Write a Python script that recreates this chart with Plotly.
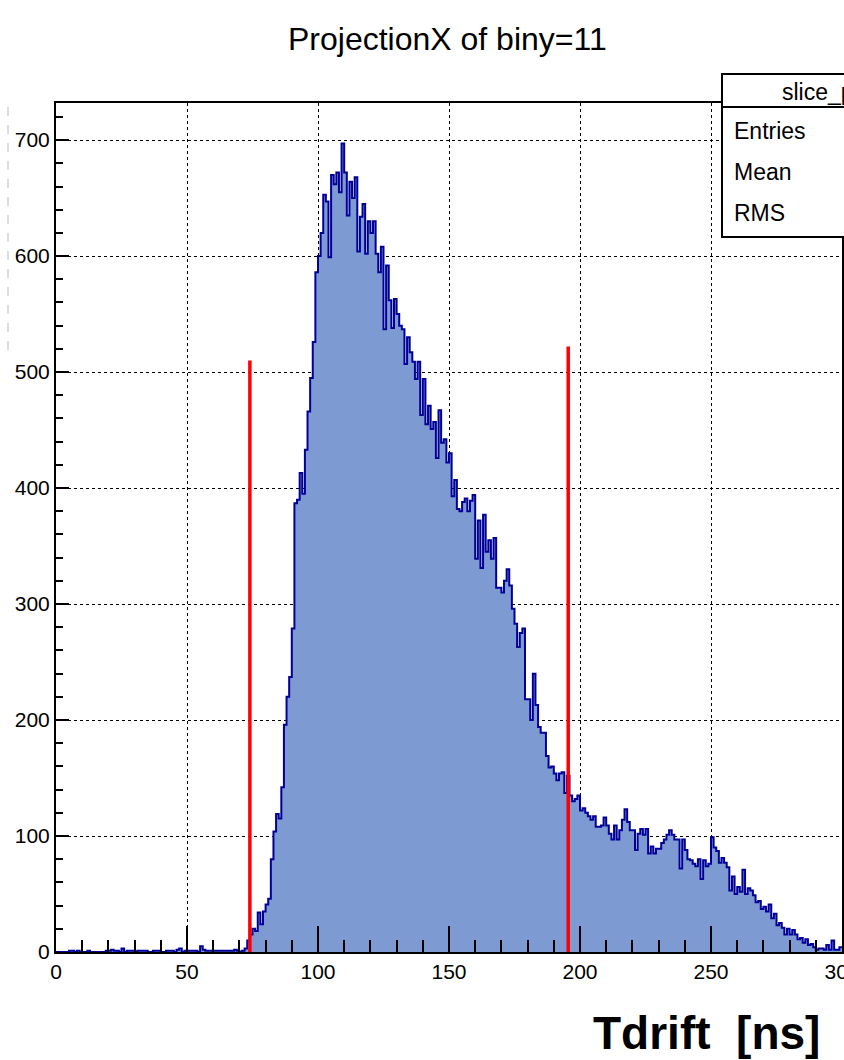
import numpy as np
import plotly.graph_objects as go

# ---------------- data (counts per 1 ns bin, 0..300 ns) ----------------
counts_000_049 = [0, 0, 0, 0, 0, 1, 1, 0, 1, 0,
                  0, 0, 1, 0, 0, 0, 0, 0, 0, 1,
                  1, 2, 1, 1, 0, 3, 0, 1, 1, 1,
                  0, 1, 1, 1, 1, 0, 0, 1, 1, 1,
                  0, 0, 1, 1, 1, 0, 2, 3, 0, 1]
counts_050_099 = [1, 1, 1, 1, 0, 5, 2, 1, 1, 1,
                  1, 1, 1, 1, 1, 1, 1, 1, 2, 1,
                  0, 1, 3, 10, 15, 20, 18, 34, 24, 35,
                  41, 46, 80, 104, 119, 115, 142, 196, 220, 237,
                  279, 387, 390, 413, 395, 433, 466, 495, 526, 586]
counts_100_149 = [600, 620, 653, 647, 599, 670, 662, 672, 655, 697,
                  672, 635, 664, 650, 668, 604, 634, 645, 602, 630,
                  620, 630, 602, 586, 608, 537, 592, 562, 538, 563,
                  550, 540, 537, 507, 530, 517, 509, 494, 509, 463,
                  494, 455, 471, 451, 457, 426, 467, 439, 442, 422]
counts_150_199 = [430, 393, 407, 382, 380, 388, 391, 380, 389, 394,
                  339, 372, 331, 377, 345, 355, 339, 357, 314, 314,
                  310, 320, 330, 316, 296, 283, 263, 275, 279, 218,
                  218, 200, 240, 213, 194, 189, 189, 169, 159, 160,
                  154, 148, 154, 155, 137, 152, 135, 130, 132, 135]
counts_200_249 = [122, 124, 120, 117, 114, 117, 108, 108, 109, 116,
                  109, 102, 97, 109, 97, 105, 114, 123, 112, 105,
                  105, 88, 102, 106, 101, 106, 85, 91, 85, 89,
                  89, 94, 97, 101, 105, 101, 97, 97, 72, 97,
                  88, 80, 79, 76, 74, 80, 63, 79, 74, 76]
counts_250_299 = [99, 90, 87, 77, 81, 77, 73, 53, 65, 50,
                  56, 52, 71, 50, 55, 53, 49, 43, 44, 37,
                  39, 35, 41, 29, 33, 23, 25, 21, 15, 20,
                  15, 19, 15, 11, 12, 8, 11, 6, 7, 4,
                  2, 3, 3, 2, 6, 2, 10, 2, 2, 4]

bin_width_ns = 1.0
x_tick_values = [0, 50, 100, 150, 200, 250, 300]
y_tick_values = [0, 100, 200, 300, 400, 500, 600, 700]
cut_positions_ns = [74.0, 195.5]
cut_heights = [510, 522]
stat_labels = ["Entries", "Mean", "RMS"]
hist_name = "slice_py"
title_text = "ProjectionX of biny=11"
x_title_text = "Tdrift  [ns]"

# ---------------- figure geometry ----------------
W, H = 844, 1060
L, R, T, B = 56, 2, 103, 108
plot_w = W - L - R
plot_h = H - T - B


def px_x(p):
    return (p - L) / plot_w


def px_y(p):
    return (H - B - p) / plot_h


counts = (counts_000_049 + counts_050_099 + counts_100_149 +
          counts_150_199 + counts_200_249 + counts_250_299)
edges = np.arange(len(counts) + 1) * bin_width_ns
step_y = counts + [counts[-1]]

SANS = "Liberation Sans, Arial, Helvetica, sans-serif"

fig = go.Figure()
fig.add_trace(go.Scatter(
    x=edges, y=step_y, mode="lines", line_shape="hv",
    line=dict(color="#000099", width=2),
    fill="tozeroy", fillcolor="#7d9bd2",
    hoverinfo="skip", showlegend=False,
))

for xc, hc in zip(cut_positions_ns, cut_heights):
    fig.add_trace(go.Scatter(
        x=[xc, xc], y=[0, hc], mode="lines",
        line=dict(color="#ff0000", width=3.5),
        hoverinfo="skip", showlegend=False,
    ))

axis_font = dict(family=SANS, size=21, color="black")

fig.update_xaxes(
    range=[0, 300], tickvals=x_tick_values, automargin=False,
    ticks="inside", ticklen=26, tickwidth=1.5, tickcolor="black",
    minor=dict(ticks="inside", ticklen=12, dtick=10, tickwidth=1.5, tickcolor="black", showgrid=False),
    showgrid=True, gridcolor="black", griddash="dot", gridwidth=1,
    showline=True, linecolor="black", linewidth=2, mirror=True,
    zeroline=False, tickfont=axis_font, ticklabeloverflow="allow",
)
fig.update_yaxes(
    range=[0, 732], tickvals=y_tick_values, automargin=False,
    ticks="inside", ticklen=13, tickwidth=1.5, tickcolor="black",
    minor=dict(ticks="inside", ticklen=7, dtick=20, tickwidth=1.5, tickcolor="black", showgrid=False),
    showgrid=True, gridcolor="black", griddash="dot", gridwidth=1,
    showline=True, linecolor="black", linewidth=2, mirror=True,
    zeroline=False, tickfont=axis_font, ticklabeloverflow="allow",
)

shapes = []
# stats box header and body
shapes.append(dict(type="rect", xref="paper", yref="paper",
                   x0=px_x(722), x1=px_x(900), y0=px_y(107), y1=px_y(74),
                   line=dict(color="black", width=2), fillcolor="white", layer="above"))
shapes.append(dict(type="rect", xref="paper", yref="paper",
                   x0=px_x(722), x1=px_x(900), y0=px_y(237), y1=px_y(107),
                   line=dict(color="black", width=2), fillcolor="white", layer="above"))
# faint dashed canvas-edge artefact on the left
shapes.append(dict(type="line", xref="paper", yref="paper",
                   x0=px_x(8), x1=px_x(8), y0=px_y(350), y1=px_y(98),
                   line=dict(color="#bbbbbb", width=1, dash="dash")))
fig.update_layout(shapes=shapes)

annotations = [
    dict(text=title_text, xref="paper", yref="paper", x=px_x(447), y=px_y(39),
         xanchor="center", yanchor="middle", showarrow=False,
         font=dict(family=SANS, size=32, color="black")),
    dict(text="<b>" + x_title_text + "</b>", xref="paper", yref="paper",
         x=px_x(822), y=px_y(1033), xanchor="right", yanchor="middle", showarrow=False,
         font=dict(family=SANS, size=46, color="black")),
    dict(text=hist_name, xref="paper", yref="paper", x=px_x(780), y=px_y(92),
         xanchor="left", yanchor="middle", showarrow=False,
         font=dict(family=SANS, size=23, color="black")),
]
for i, lab in enumerate(stat_labels):
    annotations.append(dict(text=lab, xref="paper", yref="paper",
                            x=px_x(732), y=px_y(131 + 41 * i),
                            xanchor="left", yanchor="middle", showarrow=False,
                            font=dict(family=SANS, size=23, color="black")))
fig.update_layout(annotations=annotations)

fig.update_layout(
    width=W, height=H, autosize=False,
    margin=dict(l=L, r=R, t=T, b=B, pad=0, autoexpand=False),
    paper_bgcolor="white", plot_bgcolor="white",
    showlegend=False,
)

fig.write_html("out.html")
